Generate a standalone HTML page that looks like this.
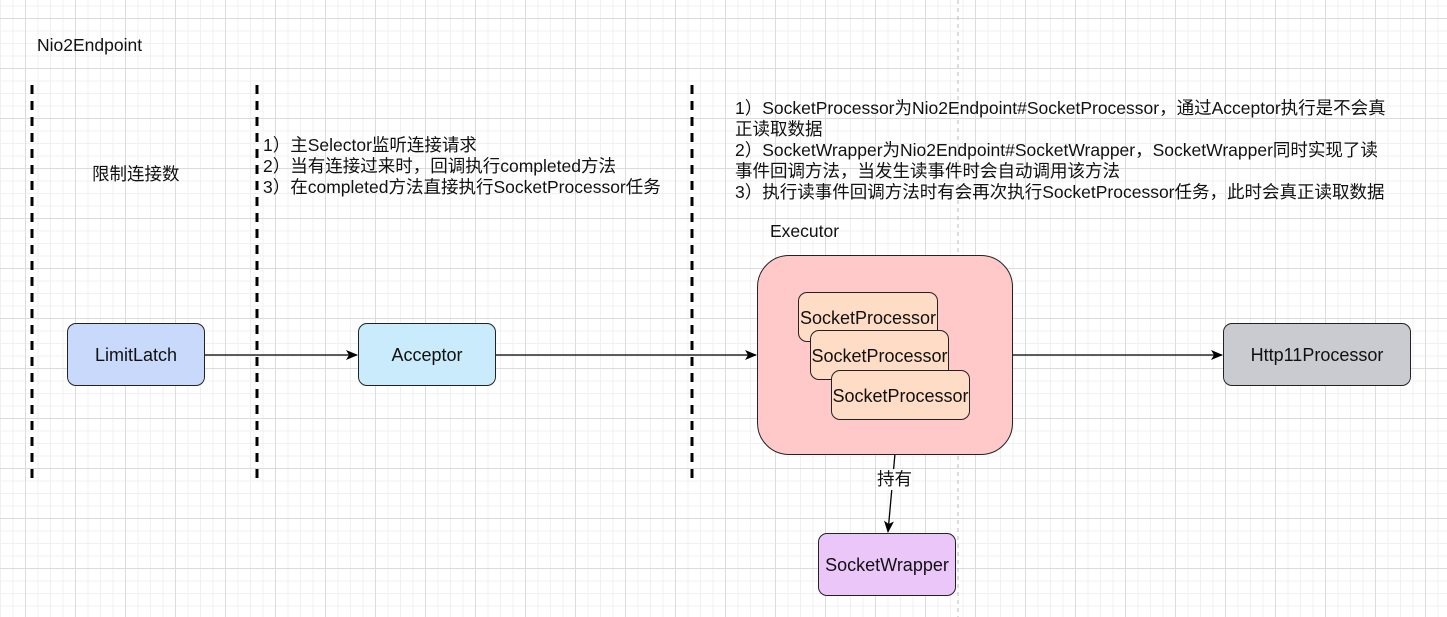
<!DOCTYPE html>
<html><head><meta charset="utf-8"><style>
html,body{margin:0;padding:0}
body{width:1447px;height:617px;position:relative;overflow:hidden;background-color:#fff;
background-image:
linear-gradient(#dcdcdc 1px,transparent 1px),
linear-gradient(90deg,#dcdcdc 1px,transparent 1px),
linear-gradient(#f0f0f0 1px,transparent 1px),
linear-gradient(90deg,#f0f0f0 1px,transparent 1px);
background-size:50px 50px,50px 50px,12.5px 12.5px,12.5px 12.5px;
background-position:0 18px,25px 0,0 5.5px,0 0;
font-family:"Liberation Sans","Noto Sans CJK SC",sans-serif;font-size:17.5px;color:#111}
.t{position:absolute;white-space:nowrap;line-height:21px}
.b{position:absolute;box-sizing:border-box;border:1.3px solid #222;border-radius:9px;display:flex;align-items:center;justify-content:center;font-size:18px;padding-top:2px}
</style></head><body>
<svg width="1447" height="617" style="position:absolute;left:0;top:0">
<defs><marker id="a" markerWidth="12" markerHeight="10" refX="11" refY="5" orient="auto" markerUnits="userSpaceOnUse"><path d="M0,0 L12,5 L0,10 L3,5 z" fill="#000"/></marker></defs>
<line x1="958" y1="0" x2="958" y2="617" stroke="#bbb" stroke-dasharray="4,4"/>
<g stroke="#000" stroke-width="3" stroke-dasharray="9,7">
<line x1="32" y1="85" x2="32" y2="483"/><line x1="257" y1="85" x2="257" y2="483"/><line x1="692" y1="85" x2="692" y2="483"/></g>
<g stroke="#000" stroke-width="1.3">
<line x1="204" y1="355" x2="357" y2="355" marker-end="url(#a)"/>
<line x1="495" y1="355" x2="756" y2="355" marker-end="url(#a)"/>
<line x1="1012" y1="355" x2="1222" y2="355" marker-end="url(#a)"/>
<line x1="898" y1="420" x2="888" y2="532" marker-end="url(#a)"/>
</g></svg>
<div class="t" style="left:37px;top:35px">Nio2Endpoint</div>
<div class="t" style="left:92px;top:164px">限制连接数</div>
<div class="t" style="left:263px;top:135px">1）主Selector监听连接请求<br>2）当有连接过来时，回调执行completed方法<br>3）在completed方法直接执行SocketProcessor任务</div>
<div class="t" style="left:735px;top:98px">1）SocketProcessor为Nio2Endpoint#SocketProcessor，通过Acceptor执行是不会真<br>正读取数据<br>2）SocketWrapper为Nio2Endpoint#SocketWrapper，SocketWrapper同时实现了读<br>事件回调方法，当发生读事件时会自动调用该方法<br>3）执行读事件回调方法时有会再次执行SocketProcessor任务，此时会真正读取数据</div>
<div class="t" style="left:770px;top:221px">Executor</div>
<div class="b" style="left:67px;top:323px;width:138px;height:63px;background:#c8d9fb">LimitLatch</div>
<div class="b" style="left:358px;top:323px;width:138px;height:63px;background:#c9ebfb">Acceptor</div>
<div class="b" style="left:757px;top:255px;width:256px;height:200px;background:#ffc9c9;border-radius:32px"></div>
<div class="b" style="left:798px;top:292px;width:140px;height:50px;background:#ffdcc5">SocketProcessor</div>
<div class="b" style="left:810px;top:330px;width:139px;height:50px;background:#ffdcc5">SocketProcessor</div>
<div class="b" style="left:831px;top:370px;width:139px;height:50px;background:#ffdcc5">SocketProcessor</div>
<div class="b" style="left:1223px;top:323px;width:188px;height:63px;background:#c9cbd0">Http11Processor</div>
<div class="b" style="left:818px;top:533px;width:138px;height:63px;background:#eac6f9">SocketWrapper</div>
<div class="t" style="left:877px;top:469px;background:#fff">持有</div>
</body></html>
